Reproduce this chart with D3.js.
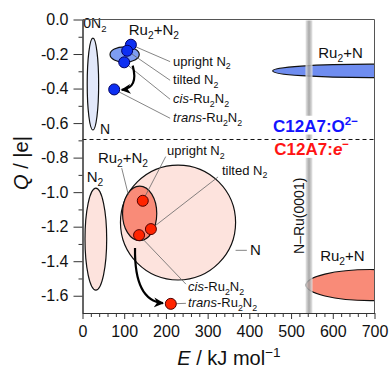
<!DOCTYPE html>
<html>
<head>
<meta charset="utf-8">
<script src="https://cdn.jsdelivr.net/npm/d3@7"></script>
<style>
  body { margin: 0; background: #fff; }
  svg { font-family: "Liberation Sans", Arial, sans-serif; display: block; }
</style>
</head>
<body>
<div id="chart"></div>
<script>
// ---- data: E in kJ/mol (x), Q in |e| (y) ----
var xTickValues = [0, 100, 200, 300, 400, 500, 600, 700];
var yTickValues = [0, -0.2, -0.4, -0.6, -0.8, -1.0, -1.2, -1.4, -1.6];

var stateNames = ["upright N2", "tilted N2", "cis-Ru2N2", "trans-Ru2N2"];
var oxideDotE = [116, 107, 100, 76];
var oxideDotQ = [-0.146, -0.181, -0.248, -0.405];
var electrideDotE = [144.5, 164, 135.6, 211.7];
var electrideDotQ = [-1.05, -1.214, -1.249, -1.647];

// regions drawn as ellipses: centre E, centre Q, half width (E), half height (Q)
var oxideRegionNames = ["N2", "Ru2+N2", "Ru2+N"];
var oxideRegionE = [25, 101, 690];
var oxideRegionQ = [-0.374, -0.203, -0.298];
var oxideRegionSpanE = [13.7, 35, 234];
var oxideRegionSpanQ = [0.266, 0.045, 0.039];

var electrideRegionNames = ["N2", "N", "Ru2+N2", "Ru2+N"];
var electrideRegionE = [32, 229, 137, 690];
var electrideRegionQ = [-1.272, -1.176, -1.123, -1.538];
var electrideRegionSpanE = [26, 138, 41, 154];
var electrideRegionSpanQ = [0.295, 0.333, 0.158, 0.09];

var nRuE = 543;          // N-Ru(0001) reference
var boundaryQ = -0.695;  // dashed separator

// ---- layout ----
var W = 391, H = 368;
var x = d3.scaleLinear().domain([0, 700]).range([82.5, 374.5]);
var y = d3.scaleLinear().domain([0, -1.7]).range([19.5, 313]);

var svg = d3.select("#chart").append("svg").attr("width", W).attr("height", H);
var defs = svg.append("defs");
defs.append("clipPath").attr("id", "plot")
  .append("rect").attr("x", x(0)).attr("y", y(0))
  .attr("width", x(700) - x(0)).attr("height", y(-1.7) - y(0));

var grad = defs.append("linearGradient").attr("id", "band");
[[0, "#e4e4e4"], [0.35, "#b0b0b0"], [0.5, "#999"], [0.65, "#b0b0b0"], [1, "#e4e4e4"]]
  .forEach(function (s) { grad.append("stop").attr("offset", s[0]).attr("stop-color", s[1]); });

defs.append("marker").attr("id", "head")
  .attr("viewBox", "0 0 10 10").attr("refX", 9).attr("refY", 5)
  .attr("markerWidth", 10).attr("markerHeight", 10)
  .attr("markerUnits", "userSpaceOnUse").attr("orient", "auto")
  .append("path").attr("d", "M0,0 L10,5 L0,10 L3,5 z").attr("fill", "#000");

// text with sub/superscripts and italics
function richText(g, px, py, parts, opt) {
  var t = g.append("text").attr("x", px).attr("y", py)
    .attr("font-size", opt.size).attr("text-anchor", opt.anchor || "start")
    .attr("fill", opt.color || "#111");
  if (opt.weight) t.attr("font-weight", opt.weight);
  var shift = 0;
  parts.forEach(function (p) {
    var k = p[1] || "";
    var s = t.append("tspan").text(p[0]);
    var target = k.indexOf("sub") >= 0 ? opt.size * 0.27 : k.indexOf("sup") >= 0 ? -opt.size * 0.4 : 0;
    if (target !== shift) { s.attr("dy", target - shift); shift = target; }
    if (k.indexOf("sub") >= 0 || k.indexOf("sup") >= 0) s.attr("font-size", opt.size * 0.68);
    if (k.indexOf("i") === 0) s.attr("font-style", "italic");
  });
  return t;
}
var labelParts = {
  "upright N2": [["upright N"], ["2", "sub"]],
  "tilted N2": [["tilted N"], ["2", "sub"]],
  "cis-Ru2N2": [["cis", "i"], ["-Ru"], ["2", "sub"], ["N"], ["2", "sub"]],
  "trans-Ru2N2": [["trans", "i"], ["-Ru"], ["2", "sub"], ["N"], ["2", "sub"]]
};

// ---- regions ----
var regions = svg.append("g").attr("clip-path", "url(#plot)");
var oxideFill = ["#e2e8fa", "#7e9df1", "#6f8df0"];
var electrideFill = ["#fde3dd", "#fde3dd", "#f98b78", "#f98b78"];
function drawRegions(E, Q, dE, dQ, fills) {
  E.forEach(function (e, i) {
    regions.append("ellipse")
      .attr("cx", x(e)).attr("cy", y(Q[i]))
      .attr("rx", x(e + dE[i]) - x(e)).attr("ry", y(Q[i] - dQ[i]) - y(Q[i]))
      .attr("fill", fills[i]).attr("stroke", "#111").attr("stroke-width", 1.2);
  });
}
drawRegions(oxideRegionE, oxideRegionQ, oxideRegionSpanE, oxideRegionSpanQ, oxideFill);
drawRegions(electrideRegionE, electrideRegionQ, electrideRegionSpanE, electrideRegionSpanQ, electrideFill);

// ---- N-Ru(0001) band ----
svg.append("rect").attr("x", x(nRuE) - 3.5).attr("y", y(0) + 1)
  .attr("width", 7).attr("height", y(-1.7) - y(0) - 1)
  .attr("fill", "url(#band)").attr("opacity", 0.85);

// ---- leader lines ----
var leaders = svg.append("g").attr("stroke", "#666").attr("stroke-width", 0.8);
function leader(e1, q1, e2, q2) {
  leaders.append("line").attr("x1", x(e1)).attr("y1", y(q1)).attr("x2", x(e2)).attr("y2", y(q2));
}
var oxideLeaderQ = [-0.244, -0.352, -0.462, -0.572];
stateNames.forEach(function (n, i) { leader(oxideDotE[i], oxideDotQ[i], 210, oxideLeaderQ[i]); });
leader(electrideDotE[0], electrideDotQ[0], 199.5, -0.794);
leader(electrideDotE[1], electrideDotQ[1], 325, -0.912);
leader(electrideDotE[2], electrideDotQ[2], 248, -1.533);
leader(electrideDotE[3], electrideDotQ[3], 248, -1.644);
leader(94, -0.861, 110, -1.016);
leader(367, -1.337, 394, -1.337);

// ---- arrows cis -> trans ----
function arrow(a, c, b) {
  svg.append("path")
    .attr("d", "M" + x(a[0]) + "," + y(a[1]) + " Q" + x(c[0]) + "," + y(c[1]) + " " + x(b[0]) + "," + y(b[1]))
    .attr("fill", "none").attr("stroke", "#000").attr("stroke-width", 2.2)
    .attr("marker-end", "url(#head)");
}
arrow([120.3, -0.267], [135, -0.397], [94, -0.408]);
arrow([125.9, -1.324], [124, -1.63], [193, -1.643]);

// ---- dots ----
function drawDots(E, Q, fill, stroke) {
  svg.append("g").selectAll("circle").data(E).join("circle")
    .attr("cx", function (d) { return x(d); })
    .attr("cy", function (d, i) { return y(Q[i]); })
    .attr("r", 5.5).attr("fill", fill).attr("stroke", stroke).attr("stroke-width", 1);
}
drawDots(oxideDotE, oxideDotQ, "#0d2ff2", "#000060");
drawDots(electrideDotE, electrideDotQ, "#ff2400", "#500000");

// ---- surface labels with white boxes ----
var tg = svg.append("g");
var t1 = richText(tg, x(456.7), y(-0.649), [["C12A7:O"], ["2\u2212", "sup"]], { size: 17, weight: "bold", color: "#1414ff" });
var t2 = richText(tg, x(459.8), y(-0.784), [["C12A7:"], ["e", "i"], ["\u2212", "sup"]], { size: 17, weight: "bold", color: "#ff1414" });
[t1, t2].forEach(function (t) {
  var b = t.node().getBBox();
  tg.insert("rect", "text").attr("x", b.x - 1).attr("y", b.y + 1)
    .attr("width", b.width + 2).attr("height", b.height - 2).attr("fill", "#fff");
});

svg.append("line").attr("x1", x(0)).attr("x2", x(700))
  .attr("y1", y(boundaryQ)).attr("y2", y(boundaryQ))
  .attr("stroke", "#111").attr("stroke-width", 1).attr("stroke-dasharray", "4,3");

// ---- annotations ----
var ann = svg.append("g");
richText(ann, x(2), y(-0.049), [["0N"], ["2", "sub"]], { size: 14 });
richText(ann, x(42), y(-0.663), [["N"]], { size: 14 });
richText(ann, x(171), y(-0.09), [["Ru"], ["2", "sub"], ["+N"], ["2", "sub"]], { size: 15, anchor: "middle" });
var oxideLabelQ = [-0.267, -0.375, -0.485, -0.595];
stateNames.forEach(function (n, i) { richText(ann, x(217), y(oxideLabelQ[i]), labelParts[n], { size: 13 }); });
richText(ann, x(618.5), y(-0.225), [["Ru"], ["2", "sub"], ["+N"]], { size: 15, anchor: "middle" });

richText(ann, x(10), y(-0.939), [["N"], ["2", "sub"]], { size: 15 });
richText(ann, x(97), y(-0.831), [["Ru"], ["2", "sub"], ["+N"], ["2", "sub"]], { size: 15, anchor: "middle" });
richText(ann, x(202.6), y(-0.787), labelParts["upright N2"], { size: 13 });
richText(ann, x(334.4), y(-0.9), labelParts["tilted N2"], { size: 13 });
richText(ann, x(401.5), y(-1.363), [["N"]], { size: 15 });
richText(ann, x(253), y(-1.574), labelParts["cis-Ru2N2"], { size: 13 });
richText(ann, x(253), y(-1.667), labelParts["trans-Ru2N2"], { size: 13 });
richText(ann, x(623), y(-1.398), [["Ru"], ["2", "sub"], ["+N"]], { size: 15, anchor: "middle" });
var rot = ann.append("g").attr("transform", "translate(" + x(530) + "," + y(-1.137) + ") rotate(-90)");
richText(rot, 0, 0, [["N\u2013Ru(0001)"]], { size: 14, anchor: "middle" });

// ---- axes and frame ----
var xMinor = d3.range(0, 701, 20).filter(function (v) { return v % 100 !== 0; });
var yMinor = d3.range(-1, -17, -2).map(function (v) { return v / 10; });

var ax = svg.append("g").attr("transform", "translate(0," + y(-1.7) + ")");
ax.call(d3.axisBottom(x).tickValues(xTickValues).tickSize(6).tickSizeOuter(0).tickPadding(7).tickFormat(d3.format("d")));
svg.append("g").attr("transform", "translate(0," + y(-1.7) + ")")
  .call(d3.axisBottom(x).tickValues(xMinor).tickSize(4).tickSizeOuter(0).tickFormat(""));
var ay = svg.append("g").attr("transform", "translate(" + x(0) + ",0)");
ay.call(d3.axisLeft(y).tickValues(yTickValues).tickSize(9).tickSizeOuter(0).tickPadding(5)
  .tickFormat(function (d) { return d.toFixed(1); }));
svg.append("g").attr("transform", "translate(" + x(0) + ",0)")
  .call(d3.axisLeft(y).tickValues(yMinor).tickSize(4).tickSizeOuter(0).tickFormat(""));
svg.selectAll(".tick text").attr("font-size", 16).attr("font-family", "Liberation Sans, Arial, sans-serif").attr("fill", "#111");
svg.selectAll(".domain, .tick line").attr("stroke", "#333");

svg.append("path")
  .attr("d", "M" + x(0) + "," + y(0) + "H" + x(700) + "V" + y(-1.7))
  .attr("fill", "none").attr("stroke", "#555").attr("stroke-width", 1);

richText(svg, 229, 365, [["E", "i"], [" / kJ mol"], ["\u22121", "sup"]], { size: 20, anchor: "middle" });
var yt = svg.append("g").attr("transform", "translate(28,163) rotate(-90)");
richText(yt, 0, 0, [["Q", "i"], [" / |e|"]], { size: 20, anchor: "middle" });
</script>
</body>
</html>
